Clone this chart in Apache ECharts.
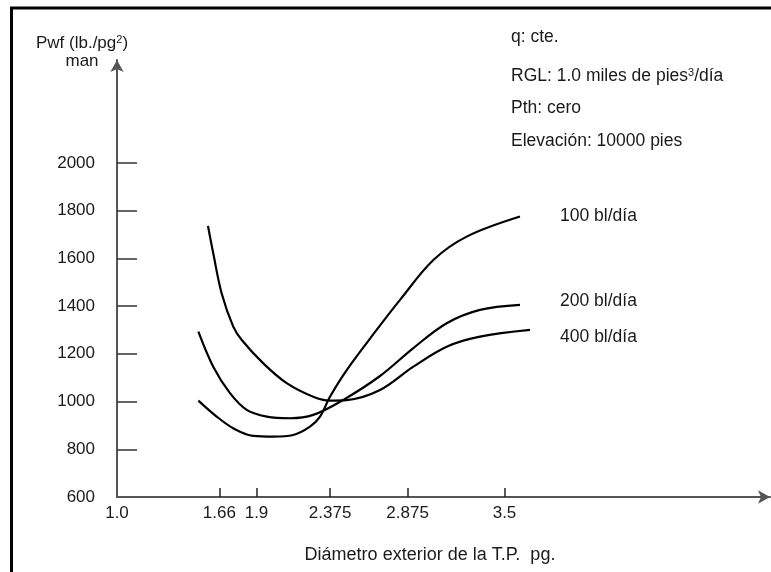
<!DOCTYPE html>
<html>
<head>
<meta charset="utf-8">
<script src="https://cdn.jsdelivr.net/npm/echarts@6/dist/echarts.min.js"></script>
<style>
  html, body { margin: 0; padding: 0; background: #fff; }
  #chart { width: 771px; height: 572px; }
</style>
</head>
<body>
<div id="chart"></div>
<script>
  // diámetro exterior (pg) vs Pwf (lb/pg2) para cada gasto
  var diam100 = [1.525, 1.643, 1.75, 1.879, 2.008, 2.137, 2.245, 2.31, 2.374, 2.482, 2.675, 2.826, 3.041, 3.256, 3.6];
  var pwf100  = [1004, 937, 888, 856, 853, 860, 895, 937, 1020, 1132, 1300, 1426, 1593, 1691, 1775];

  var diam200 = [1.525, 1.621, 1.729, 1.837, 1.966, 2.116, 2.266, 2.46, 2.697, 2.912, 3.127, 3.342, 3.6];
  var pwf200  = [1293, 1146, 1035, 965, 937, 930, 944, 1007, 1107, 1224, 1328, 1384, 1405];

  var diam400 = [1.587, 1.621, 1.675, 1.75, 1.805, 1.944, 2.095, 2.266, 2.374, 2.482, 2.697, 2.912, 3.127, 3.342, 3.665];
  var pwf400  = [1736, 1621, 1454, 1314, 1258, 1160, 1077, 1020, 1004, 1006, 1048, 1146, 1230, 1272, 1300];

  var seriesNames = ['100 bl/día', '200 bl/día', '400 bl/día'];

  var xTicks = [1.0, 1.66, 1.9, 2.375, 2.875, 3.5];
  var xTickLabels = ['1.0', '1.66', '1.9', '2.375', '2.875', '3.5'];
  var yTicks = [600, 800, 1000, 1200, 1400, 1600, 1800, 2000];

  var notes = ['q: cte.', 'RGL: 1.0 miles de pies{sup|3}/día', 'Pth: cero', 'Elevación: 10000 pies'];

  function zip(xs, ys) {
    var out = [];
    for (var i = 0; i < xs.length; i++) out.push([xs[i], ys[i]]);
    return out;
  }

  var font = 'Liberation Sans, Arial, sans-serif';
  var ink = '#1a1a1a';

  function curve(name, xs, ys, offset) {
    return {
      name: name,
      type: 'line',
      data: zip(xs, ys),
      smooth: 0.35,
      symbol: 'none',
      lineStyle: { color: '#000', width: 2.2 },
      endLabel: {
        show: true,
        formatter: '{a}',
        offset: offset,
        color: ink,
        fontFamily: font,
        fontSize: 17.5
      }
    };
  }

  var chart = echarts.init(document.getElementById('chart'));
  var noteY = [38, 77, 109, 142];

  chart.setOption({
    animation: false,
    backgroundColor: '#fff',
    grid: { left: 117, right: 1, top: 60, bottom: 75 },
    xAxis: {
      type: 'value',
      min: 1.0,
      max: 5.213,
      name: 'Diámetro exterior de la T.P.  pg.',
      nameLocation: 'middle',
      nameGap: 49,
      nameTextStyle: { color: ink, fontFamily: font, fontSize: 18, padding: [0, 27, 0, 0] },
      splitLine: { show: false },
      axisLine: {
        lineStyle: { color: '#555', width: 2 },
        symbol: ['none', 'arrow'],
        symbolSize: [10, 12]
      },
      axisTick: {
        inside: true,
        length: 9,
        lineStyle: { color: '#222', width: 1.5 },
        customValues: xTicks.slice(1)
      },
      axisLabel: {
        color: ink,
        fontFamily: font,
        fontSize: 17,
        margin: 8,
        customValues: xTicks,
        formatter: function (v) {
          var i = xTicks.indexOf(v);
          return i >= 0 ? xTickLabels[i] : '';
        }
      }
    },
    yAxis: {
      type: 'value',
      min: 600,
      max: 2431,
      name: 'Pwf (lb./pg{sup|2})\nman',
      nameLocation: 'end',
      nameGap: -10,
      nameTextStyle: {
        color: ink,
        fontFamily: font,
        fontSize: 17,
        lineHeight: 18,
        align: 'center',
        padding: [0, 70, 0, 0],
        rich: { sup: { fontSize: 11, verticalAlign: 'top', lineHeight: 18, color: ink, fontFamily: font } }
      },
      splitLine: { show: false },
      axisLine: {
        lineStyle: { color: '#555', width: 2 },
        symbol: ['none', 'arrow'],
        symbolSize: [10, 12]
      },
      axisTick: {
        inside: true,
        length: 20,
        lineStyle: { color: '#333', width: 1.5 },
        customValues: yTicks.slice(1)
      },
      axisLabel: {
        color: ink,
        fontFamily: font,
        fontSize: 17,
        margin: 22,
        customValues: yTicks,
        formatter: function (v) { return String(v); }
      }
    },
    series: [
      curve(seriesNames[0], diam100, pwf100, [32, 0]),
      curve(seriesNames[1], diam200, pwf200, [32, -4]),
      curve(seriesNames[2], diam400, pwf400, [22, 7])
    ],
    graphic: [
      {
        type: 'rect',
        z: -1,
        shape: { x: 11.5, y: 8, width: 900, height: 700 },
        style: { fill: 'none', stroke: '#000', lineWidth: 3 }
      }
    ].concat(notes.map(function (t, i) {
      return {
        type: 'text',
        left: 511,
        top: noteY[i] - 10,
        style: {
          text: t,
          fill: ink,
          font: '17.5px ' + font,
          rich: { sup: { fontSize: 11, verticalAlign: 'top', fill: ink } }
        }
      };
    }))
  });
</script>
</body>
</html>
